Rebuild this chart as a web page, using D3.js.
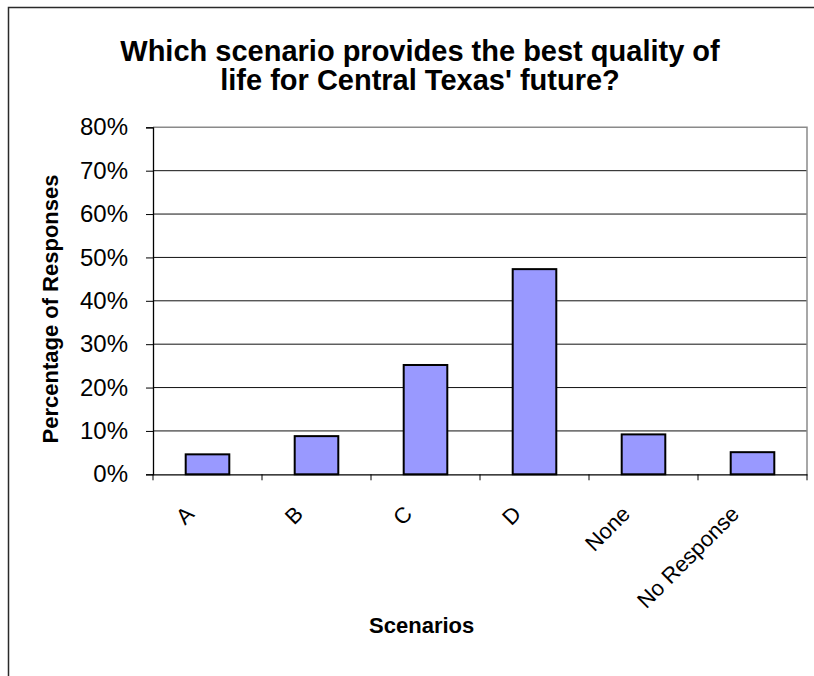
<!DOCTYPE html>
<html>
<head>
<meta charset="utf-8">
<script src="https://cdn.jsdelivr.net/npm/d3@7"></script>
<style>
  body { margin: 0; background: #fff; }
  svg { display: block; font-family: "Liberation Sans", Arial, sans-serif; }
</style>
</head>
<body>
<svg width="814" height="676"></svg>
<script>
/* jslint esversion:6 */

var categories = ["A", "B", "C", "D", "None", "No Response"];
var responses = [0.046, 0.088, 0.252, 0.473, 0.092, 0.051];
var yTicks = [0, 0.1, 0.2, 0.3, 0.4, 0.5, 0.6, 0.7, 0.8];

function barChart() {

  var svg = d3.select("svg"),
    margin = {top: 127.3, right: 7, bottom: 201.7, left: 153},
    width = +svg.attr("width") - margin.left - margin.right,
    height = +svg.attr("height") - margin.top - margin.bottom;

  // outer chart frame (right/bottom run off the picture)
  svg.append("rect")
    .attr("x", 8.5).attr("y", 7.5)
    .attr("width", 840).attr("height", 700)
    .attr("fill", "none")
    .attr("stroke", "#2a2a2a")
    .attr("stroke-width", 1.5);

  var g = svg.append("g").attr("transform", "translate(" + margin.left + "," + margin.top + ")");

  var x = d3.scaleBand()
            .domain(categories)
            .range([0, width])
            .paddingInner(0.6)
            .paddingOuter(0.3);

  var y = d3.scaleLinear()
            .domain([0, 0.8])
            .range([height, 0]);

  // gridlines
  g.append("g")
    .selectAll("line")
    .data(yTicks.slice(1, -1))
    .enter().append("line")
      .attr("x1", 0)
      .attr("x2", width)
      .attr("y1", function(d) { return y(d); })
      .attr("y2", function(d) { return y(d); })
      .attr("stroke", "#111")
      .attr("stroke-width", 1);

  // plot area border
  g.append("path")
    .attr("d", "M0," + y(0.8) + "H" + width + "V" + height)
    .attr("fill", "none")
    .attr("stroke", "#8a8a8a")
    .attr("stroke-width", 1.5);

  // bars
  g.append("g")
    .selectAll("rect")
    .data(categories)
    .enter().append("rect")
      .attr("x", function(d) { return x(d); })
      .attr("y", function(d, i) { return y(responses[i]); })
      .attr("width", x.bandwidth())
      .attr("height", function(d, i) { return height - y(responses[i]); })
      .attr("fill", "#9999ff")
      .attr("stroke", "#000")
      .attr("stroke-width", 2);

  // y axis
  var yAxis = g.append("g")
      .call(d3.axisLeft(y)
        .tickValues(yTicks)
        .tickFormat(d3.format(".0%"))
        .tickSize(7)
        .tickPadding(18));
  yAxis.select(".domain").attr("stroke", "#000").attr("stroke-width", 1.3);
  yAxis.selectAll(".tick line").attr("stroke", "#000");
  yAxis.selectAll("text")
    .attr("font-size", "24px")
    .attr("fill", "#000")
    .attr("font-family", "'Liberation Sans', Arial, sans-serif");

  // x axis (labels at centres, ticks at category boundaries)
  var xAxis = g.append("g")
      .attr("transform", "translate(0," + height + ")")
      .call(d3.axisBottom(x).tickSize(0).tickSizeOuter(0));
  xAxis.select(".domain").attr("stroke", "#000").attr("stroke-width", 1.3);
  xAxis.selectAll("text")
    .attr("x", 0)
    .attr("y", 0)
    .attr("dy", 0)
    .attr("text-anchor", "end")
    .attr("transform", "translate(-12,41) rotate(-45)")
    .attr("font-size", "22px")
    .attr("fill", "#000")
    .attr("font-family", "'Liberation Sans', Arial, sans-serif");

  var bounds = categories.map(function(d) { return x(d) + x.bandwidth() / 2 - x.step() / 2; });
  bounds.push(width);
  xAxis.selectAll(".bound")
    .data(bounds)
    .enter().append("line")
      .attr("class", "bound")
      .attr("x1", function(d) { return d; })
      .attr("x2", function(d) { return d; })
      .attr("y1", 0)
      .attr("y2", 6)
      .attr("stroke", "#000");

  // titles
  svg.append("text")
    .attr("x", 420)
    .attr("text-anchor", "middle")
    .attr("font-size", "29px")
    .attr("font-weight", "bold")
    .selectAll("tspan")
    .data(["Which scenario provides the best quality of", "life for Central Texas' future?"])
    .enter().append("tspan")
      .attr("x", 420)
      .attr("y", function(d, i) { return 61 + i * 29; })
      .text(function(d) { return d; });

  svg.append("text")
    .attr("transform", "translate(58,309) rotate(-90)")
    .attr("text-anchor", "middle")
    .attr("font-size", "22px")
    .attr("font-weight", "bold")
    .text("Percentage of Responses");

  svg.append("text")
    .attr("x", 421.7)
    .attr("y", 633)
    .attr("text-anchor", "middle")
    .attr("font-size", "22px")
    .attr("font-weight", "bold")
    .text("Scenarios");
}

barChart();
</script>
</body>
</html>
